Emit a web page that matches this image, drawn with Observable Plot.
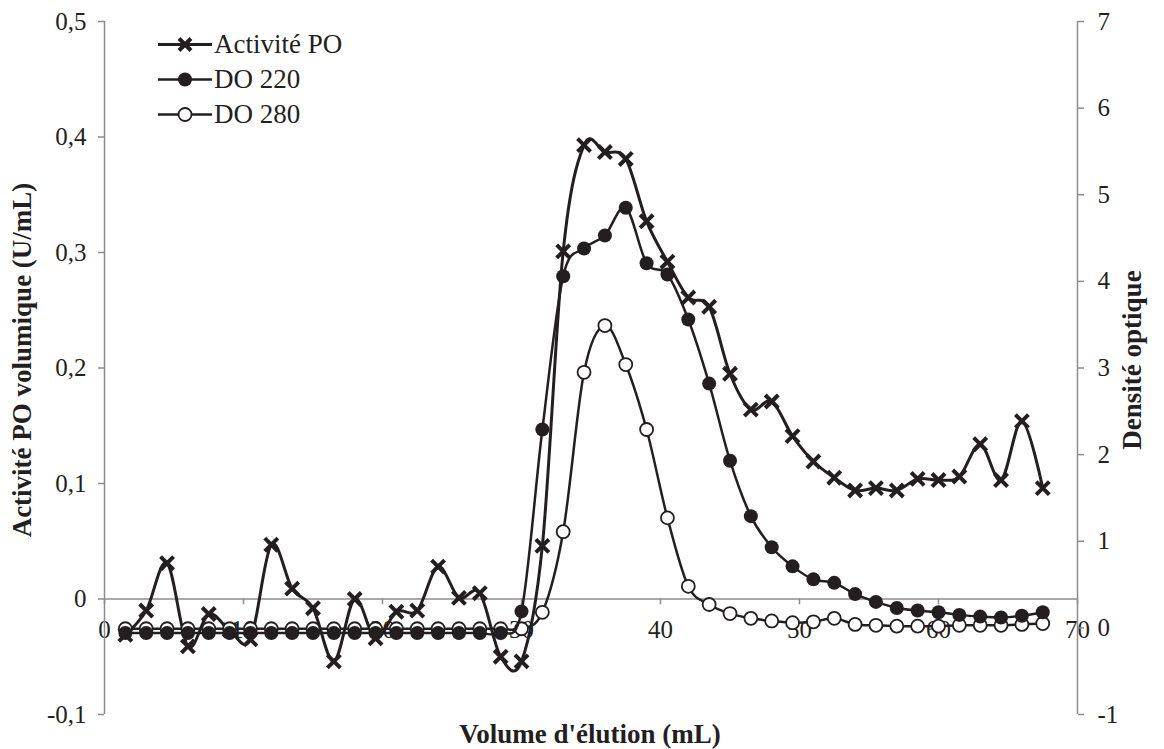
<!DOCTYPE html>
<html><head><meta charset="utf-8">
<script src="https://cdn.jsdelivr.net/npm/d3@7"></script>
<script src="https://cdn.jsdelivr.net/npm/@observablehq/plot@0.6"></script>
<style>
body{margin:0;background:#fff;}
#wrap{position:relative;width:1164px;height:749px;font-family:"Liberation Serif","Times New Roman",serif;color:#231f20;}
.title{position:absolute;font-weight:bold;font-size:27px;white-space:nowrap;transform:translate(-50%,-50%);}
.rot{transform:translate(-50%,-50%) rotate(-90deg);}
.leg{position:absolute;left:158px;font-size:27px;display:flex;align-items:center;white-space:nowrap;transform:translateY(-50%);}
.leg svg{margin-right:2px;}
</style></head><body><div id="wrap"></div>
<script>
// Elution volume (mL) of each fraction
const volume = [1.5, 3, 4.5, 6, 7.5, 9, 10.5, 12, 13.5, 15, 16.5, 18, 19.5, 21, 22.5, 24, 25.5, 27, 28.5, 30,
  31.5, 33, 34.5, 36, 37.5, 39, 40.5, 42, 43.5, 45, 46.5, 48, 49.5, 51, 52.5, 54, 55.5, 57, 58.5, 60,
  61.5, 63, 64.5, 66, 67.5];
// Activité PO volumique (U/mL) - left axis
const activite = [-0.031, -0.010, 0.031, -0.041, -0.013, -0.027, -0.035, 0.047, 0.009, -0.008,
  -0.054, 0.000, -0.034, -0.011, -0.010, 0.028, 0.001, 0.005, -0.050, -0.054,
  0.046, 0.301, 0.393, 0.387, 0.381, 0.327, 0.292, 0.261, 0.253, 0.195,
  0.164, 0.171, 0.141, 0.119, 0.105, 0.094, 0.096, 0.094, 0.104, 0.103,
  0.106, 0.134, 0.103, 0.154, 0.096];
// DO 220 - right axis
const do220 = [-0.06, -0.06, -0.06, -0.06, -0.06, -0.06, -0.06, -0.06, -0.06, -0.06,
  -0.06, -0.06, -0.06, -0.06, -0.06, -0.06, -0.06, -0.06, -0.06, 0.19,
  2.29, 4.06, 4.38, 4.53, 4.85, 4.21, 4.08, 3.56, 2.82, 1.93,
  1.29, 0.93, 0.71, 0.56, 0.52, 0.39, 0.30, 0.23, 0.20, 0.18,
  0.15, 0.13, 0.12, 0.14, 0.18];
// DO 280 - right axis
const do280 = [-0.01, -0.01, -0.01, -0.01, -0.01, -0.01, -0.01, -0.01, -0.01, -0.01,
  -0.01, -0.01, -0.01, -0.01, -0.01, -0.01, -0.01, -0.01, -0.01, -0.01,
  0.18, 1.11, 2.95, 3.49, 3.04, 2.29, 1.27, 0.48, 0.27, 0.165,
  0.11, 0.08, 0.06, 0.07, 0.11, 0.04, 0.03, 0.02, 0.02, 0.02,
  0.03, 0.03, 0.03, 0.04, 0.05];

const xTicks = [0, 10, 20, 30, 40, 50, 60, 70];
const leftTicks = [-0.1, 0, 0.1, 0.2, 0.3, 0.4, 0.5];
const rightTicks = [-1, 0, 1, 2, 3, 4, 5, 6, 7];
const seriesNames = ["Activité PO", "DO 220", "DO 280"];

const ink = "#231f20", axisGray = "#8c8c8c";
const lo = -0.1, hi = 0.5, rlo = -1, rhi = 7;
const toLeft = v => lo + (v - rlo) * (hi - lo) / (rhi - rlo);
const fromLeft = v => rlo + (v - lo) * (rhi - rlo) / (hi - lo);

const rows = volume.map((x, i) => ({x, act: activite[i], d220: toLeft(do220[i]), d280: toLeft(do280[i])}));

const font = "'Liberation Serif','Times New Roman',serif";
const plot = Plot.plot({
  width: 1164, height: 749,
  marginLeft: 104, marginRight: 87, marginTop: 21, marginBottom: 35,
  x: {domain: [0, 70], axis: null},
  y: {domain: [lo, hi], axis: null},
  style: {fontFamily: font, fontSize: "25px", color: ink, background: "white", overflow: "visible"},
  marks: [
    Plot.text(xTicks, {x: d => d, y: 0, dy: 31, text: d => String(d), fontSize: 25, fill: ink}),
    Plot.ruleY([0], {stroke: axisGray, strokeWidth: 1.5}),
    Plot.ruleX(xTicks, {x: d => d, y1: 0, y2: -0.005, stroke: axisGray, strokeWidth: 1.5}),
    Plot.ruleX([0], {y1: lo, y2: hi, stroke: axisGray, strokeWidth: 1.5}),
    Plot.ruleX([70], {y1: lo, y2: hi, stroke: axisGray, strokeWidth: 1.5}),
    Plot.axisY(leftTicks, {anchor: "left", tickSize: 6, tickPadding: 12, stroke: axisGray, strokeWidth: 1.5,
      fill: ink, fontSize: 25, label: null,
      tickFormat: d => d === 0 ? "0" : d.toFixed(1).replace(".", ",")}),
    Plot.axisY(rightTicks.map(toLeft), {anchor: "right", tickSize: 6, tickPadding: 14, stroke: axisGray, strokeWidth: 1.5,
      fill: ink, fontSize: 25, label: null,
      tickFormat: d => String(Math.round(fromLeft(d)))}),
    Plot.line(rows, {x: "x", y: "act", curve: "cardinal", stroke: ink, strokeWidth: 3}),
    Plot.dot(rows, {x: "x", y: "act", symbol: "times", r: 6, stroke: ink, strokeWidth: 4}),
    Plot.line(rows, {x: "x", y: "d280", curve: "cardinal", stroke: ink, strokeWidth: 2.5}),
    Plot.dot(rows, {x: "x", y: "d280", r: 6.5, fill: "white", stroke: ink, strokeWidth: 1.8}),
    Plot.line(rows, {x: "x", y: "d220", curve: "cardinal", stroke: ink, strokeWidth: 2.5}),
    Plot.dot(rows, {x: "x", y: "d220", r: 7, fill: ink})
  ]
});
const wrap = document.getElementById("wrap");
wrap.appendChild(plot);

function addDiv(cls, text, left, top) {
  const d = document.createElement("div");
  d.className = cls; d.textContent = text;
  d.style.left = left + "px"; d.style.top = top + "px";
  wrap.appendChild(d);
}
addDiv("title", "Volume d'élution (mL)", 590, 734);
addDiv("title rot", "Activité PO volumique (U/mL)", 22, 360);
addDiv("title rot", "Densité optique", 1132, 360);

const legSyms = [
  '<line x1="0" x2="54" y1="10" y2="10" stroke="#231f20" stroke-width="3"/><path d="M21,4L33,16M33,4L21,16" stroke="#231f20" stroke-width="4"/>',
  '<line x1="0" x2="54" y1="10" y2="10" stroke="#231f20" stroke-width="2.5"/><circle cx="27" cy="10" r="7" fill="#231f20"/>',
  '<line x1="0" x2="54" y1="10" y2="10" stroke="#231f20" stroke-width="2.5"/><circle cx="27" cy="10" r="6.5" fill="white" stroke="#231f20" stroke-width="1.8"/>'
];
const legY = [44, 79, 114];
seriesNames.forEach((name, i) => {
  const d = document.createElement("div");
  d.className = "leg";
  d.style.top = legY[i] + "px";
  d.innerHTML = `<svg width="54" height="20">${legSyms[i]}</svg><span>${name}</span>`;
  wrap.appendChild(d);
});
</script></body></html>
